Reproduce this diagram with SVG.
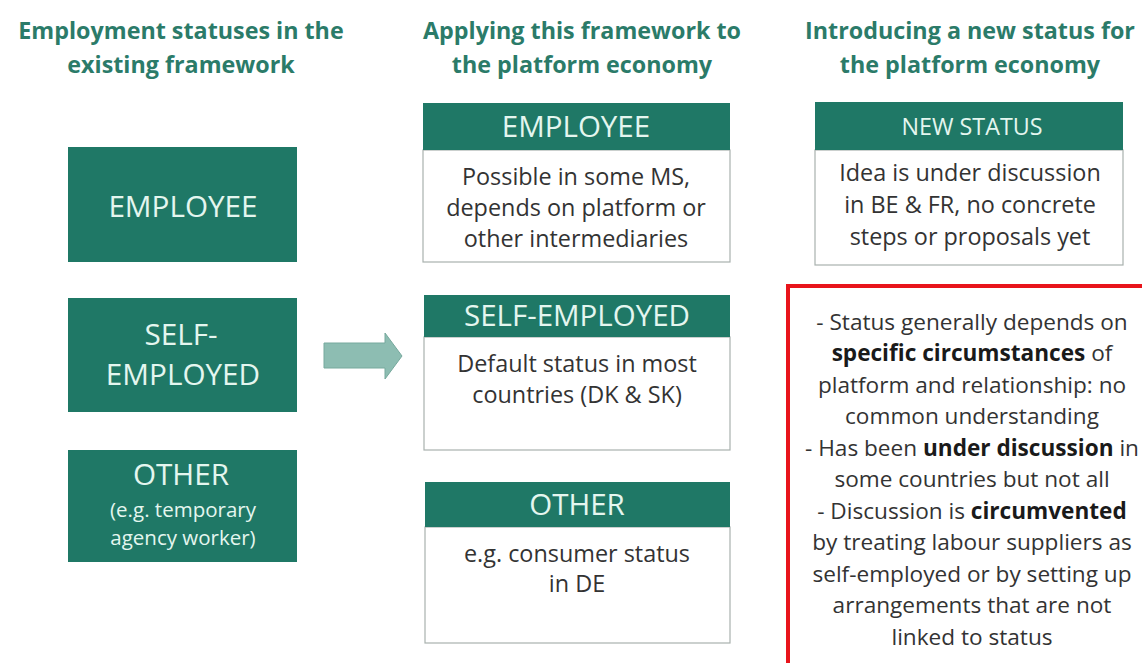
<svg xmlns="http://www.w3.org/2000/svg" width="1142" height="663" viewBox="0 0 1142 663">
<style>
text{font-family:"Open Sans","Liberation Sans",sans-serif;text-anchor:middle}
.h{font-size:23.3px;font-weight:700;fill:#2b7b69}
.fill{fill:#1f7866}
.lt{fill:#e4f6ef}
.big{font-size:29.7px}
.hd{font-size:29.5px}
.sm{font-size:20.5px}
.body{fill:#fff;stroke:#a9b1ae;stroke-width:1.2}
.bt{font-size:23.4px;fill:#333}
.rt{font-size:22.6px;fill:#333}
.b{font-weight:700;fill:#1a1a1a}
</style>
<rect width="1142" height="663" fill="#fff"/>
<g id="headings">
<text class="h" x="181" y="39">Employment statuses in the</text>
<text class="h" x="181" y="73">existing framework</text>
<text class="h" x="582" y="39">Applying this framework to</text>
<text class="h" x="582" y="73">the platform economy</text>
<text class="h" x="970" y="39">Introducing a new status for</text>
<text class="h" x="970" y="73">the platform economy</text>
</g>
<g id="left-employee">
<rect class="fill" x="68" y="147" width="229" height="115"/>
<text class="lt big" x="183" y="217">EMPLOYEE</text>
</g>
<g id="left-self-employed">
<rect class="fill" x="68" y="298" width="229" height="114"/>
<text class="lt big" x="181" y="345">SELF-</text>
<text class="lt big" x="183" y="385">EMPLOYED</text>
</g>
<g id="left-other">
<rect class="fill" x="68" y="450" width="229" height="112"/>
<text class="lt big" x="181" y="485">OTHER</text>
<text class="lt sm" x="183" y="517">(e.g. temporary</text>
<text class="lt sm" x="183" y="545">agency worker)</text>
</g>
<g id="connectors">
<polygon points="324,343 385,343 385,333 402,356 385,379 385,368 324,368" fill="#8dbdb2" stroke="#76a99d" stroke-width="1"/>
</g>
<g id="mid-employee">
<rect class="body" x="423" y="150" width="307" height="112"/>
<rect class="fill" x="423" y="103" width="307" height="47"/>
<text class="lt hd" x="576" y="137">EMPLOYEE</text>
<text class="bt" x="576" y="185">Possible in some MS,</text>
<text class="bt" x="576" y="216">depends on platform or</text>
<text class="bt" x="576" y="247">other intermediaries</text>
</g>
<g id="mid-self-employed">
<rect class="body" x="424" y="337" width="306" height="113"/>
<rect class="fill" x="424" y="295" width="306" height="42"/>
<text class="lt hd" x="577" y="326">SELF-EMPLOYED</text>
<text class="bt" x="577" y="372">Default status in most</text>
<text class="bt" x="577" y="403">countries (DK &amp; SK)</text>
</g>
<g id="mid-other">
<rect class="body" x="425" y="527" width="305" height="116"/>
<rect class="fill" x="425" y="482" width="305" height="45"/>
<text class="lt hd" x="577" y="515">OTHER</text>
<text class="bt" x="577" y="562">e.g. consumer status</text>
<text class="bt" x="577" y="592">in DE</text>
</g>
<g id="new-status">
<rect class="body" x="815" y="150" width="308" height="115"/>
<rect class="fill" x="815" y="102" width="308" height="48"/>
<text class="lt" x="972" y="135" font-size="23.3">NEW STATUS</text>
<text class="bt" x="970" y="181">Idea is under discussion</text>
<text class="bt" x="970" y="213">in BE &amp; FR, no concrete</text>
<text class="bt" x="970" y="245">steps or proposals yet</text>
</g>
<g id="note">
<rect x="788" y="286" width="360" height="390" fill="#fff" stroke="#e8141b" stroke-width="4"/>
<text class="rt" x="972" y="330">- Status generally depends on</text>
<text class="rt" x="972" y="361"><tspan class="b">specific circumstances</tspan> of</text>
<text class="rt" x="972" y="393">platform and relationship: no</text>
<text class="rt" x="972" y="424">common understanding</text>
<text class="rt" x="972" y="456">- Has been <tspan class="b">under discussion</tspan> in</text>
<text class="rt" x="972" y="487">some countries but not all</text>
<text class="rt" x="972" y="519">- Discussion is <tspan class="b">circumvented</tspan></text>
<text class="rt" x="972" y="550">by treating labour suppliers as</text>
<text class="rt" x="972" y="582">self-employed or by setting up</text>
<text class="rt" x="972" y="613">arrangements that are not</text>
<text class="rt" x="972" y="645">linked to status</text>
</g>
</svg>
